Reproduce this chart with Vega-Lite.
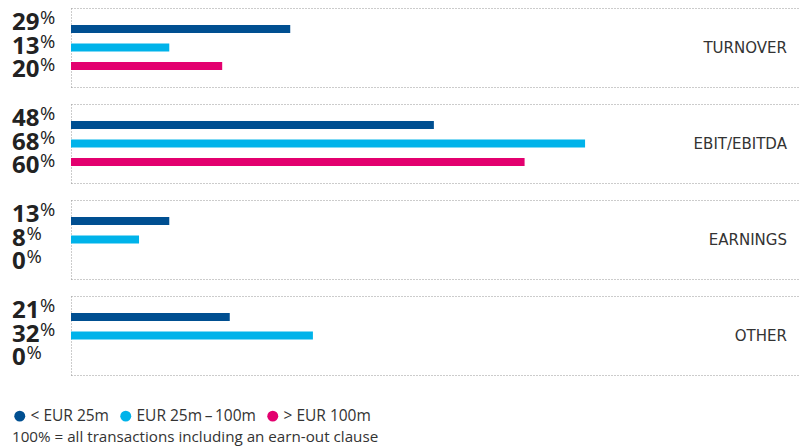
{
  "$schema": "https://vega.github.io/schema/vega-lite/v6.json",
  "padding": {"left": 12, "top": 8, "right": 0, "bottom": 0},
  "config": {"view": {"stroke": null}, "font": "Open Sans"},
  "data": {"values": [
    {"group": "TURNOVER", "series": "< EUR 25m", "pct": 29, "bar": 29},
    {"group": "TURNOVER", "series": "EUR 25m\u2009–\u2009100m", "pct": 13, "bar": 13},
    {"group": "TURNOVER", "series": "> EUR 100m", "pct": 20, "bar": 20},
    {"group": "EBIT/EBITDA", "series": "< EUR 25m", "pct": 48, "bar": 48},
    {"group": "EBIT/EBITDA", "series": "EUR 25m\u2009–\u2009100m", "pct": 68, "bar": 68},
    {"group": "EBIT/EBITDA", "series": "> EUR 100m", "pct": 60, "bar": 60},
    {"group": "EARNINGS", "series": "< EUR 25m", "pct": 13, "bar": 13},
    {"group": "EARNINGS", "series": "EUR 25m\u2009–\u2009100m", "pct": 8, "bar": 9},
    {"group": "EARNINGS", "series": "> EUR 100m", "pct": 0, "bar": 0},
    {"group": "OTHER", "series": "< EUR 25m", "pct": 21, "bar": 21},
    {"group": "OTHER", "series": "EUR 25m\u2009–\u2009100m", "pct": 32, "bar": 32},
    {"group": "OTHER", "series": "> EUR 100m", "pct": 0, "bar": 0}
  ]},
  "facet": {"row": {"field": "group", "type": "nominal", "sort": ["TURNOVER", "EBIT/EBITDA", "EARNINGS", "OTHER"], "header": null}},
  "spacing": 17,
  "resolve": {"axis": {"x": "independent", "y": "independent"}},
  "spec": {
    "width": 729,
    "height": 79,
    "layer": [
      {
        "mark": {"type": "bar"},
        "encoding": {
          "x": {"field": "bar", "type": "quantitative", "scale": {"domain": [0, 96.43], "nice": false},
                "axis": {"orient": "bottom", "domain": true, "domainDash": [1, 2], "domainColor": "#999", "domainWidth": 1, "ticks": false, "labels": false, "grid": false, "title": null}},
          "y": {"field": "series", "type": "nominal", "sort": ["< EUR 25m", "EUR 25m\u2009–\u2009100m", "> EUR 100m"],
                "scale": {"paddingInner": 0.568, "paddingOuter": 0.919},
                "axis": {"orient": "left", "domain": true, "domainDash": [1, 2], "domainColor": "#999", "domainWidth": 1, "ticks": false, "labels": false, "grid": false, "title": null}},
          "color": {"field": "series", "type": "nominal",
                    "scale": {"domain": ["< EUR 25m", "EUR 25m\u2009–\u2009100m", "> EUR 100m"], "range": ["#004f91", "#00b3ea", "#e3006f"]},
                    "legend": {"orient": "none", "legendX": -59, "legendY": 400, "direction": "horizontal", "title": "100% = all transactions including an earn-out clause", "titleOrient": "bottom", "titleAnchor": "start", "symbolType": "circle", "symbolSize": 120, "symbolStrokeWidth": 0, "labelFontSize": 15.5, "labelColor": "#333", "labelFont": "Open Sans", "titleFont": "Open Sans", "titleFontSize": 15.2, "titleFontWeight": "normal", "titleColor": "#333", "columnPadding": 9, "labelOffset": 3, "titlePadding": 5, "titleLimit": 700}}
        }
      },
      {
        "layer": [
          {
            "mark": {"type": "text", "align": "left", "baseline": "alphabetic", "dy": 6, "fontSize": 24, "fontWeight": "bold", "color": "#222"},
            "encoding": {
              "x": {"datum": -7.8, "axis": null},
              "y": {"field": "series", "type": "nominal", "sort": ["< EUR 25m", "EUR 25m\u2009–\u2009100m", "> EUR 100m"], "scale": {"type": "point", "padding": 0.646}, "axis": null},
              "text": {"field": "pct"}
            }
          },
          {
            "transform": [{"filter": "datum.pct >= 10"}],
            "mark": {"type": "text", "align": "left", "baseline": "alphabetic", "dx": 28, "dy": 0, "fontSize": 18.5, "color": "#222"},
            "encoding": {
              "x": {"datum": -7.8, "axis": null},
              "y": {"field": "series", "type": "nominal", "sort": ["< EUR 25m", "EUR 25m\u2009–\u2009100m", "> EUR 100m"], "axis": null},
              "text": {"value": "%"}
            }
          },
          {
            "transform": [{"filter": "datum.pct < 10"}],
            "mark": {"type": "text", "align": "left", "baseline": "alphabetic", "dx": 14.5, "dy": 0, "fontSize": 18.5, "color": "#222"},
            "encoding": {
              "x": {"datum": -7.8, "axis": null},
              "y": {"field": "series", "type": "nominal", "sort": ["< EUR 25m", "EUR 25m\u2009–\u2009100m", "> EUR 100m"], "axis": null},
              "text": {"value": "%"}
            }
          }
        ]
      },
      {
        "transform": [{"filter": "datum.series == '< EUR 25m'"}],
        "mark": {"type": "text", "align": "right", "baseline": "middle", "font": "DejaVu Sans", "fontSize": 15, "color": "#333"},
        "encoding": {
          "x": {"datum": 94.7, "axis": {"orient": "top", "domain": true, "domainDash": [1, 2], "domainColor": "#999", "domainWidth": 1, "ticks": false, "labels": false, "grid": false, "title": null}},
          "text": {"field": "group"}
        }
      }
    ],
    "resolve": {"scale": {"y": "independent"}, "axis": {"x": "independent"}}
  }
}
